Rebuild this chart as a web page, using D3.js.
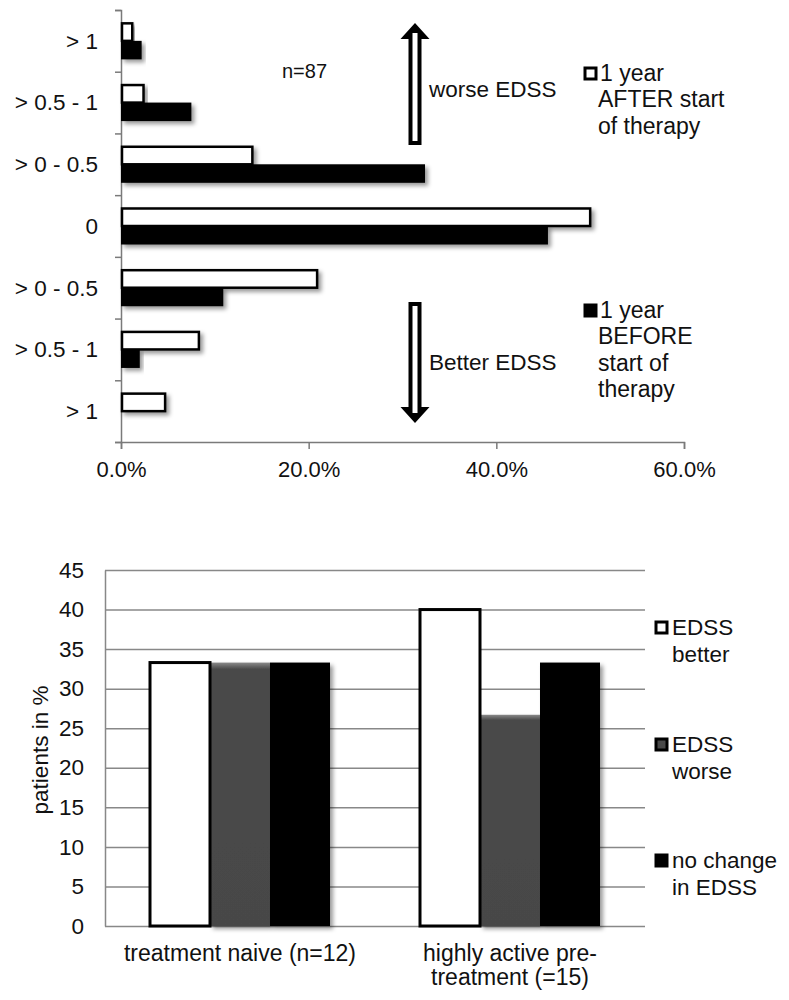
<!DOCTYPE html>
<html>
<head>
<meta charset="utf-8">
<script src="https://cdn.jsdelivr.net/npm/d3@7"></script>
<style>
  body { margin: 0; background: #fff; }
  svg { display: block; font-family: "Liberation Sans", Arial, sans-serif; }
  .lbl { fill: #111; }
</style>
</head>
<body>
<script>
// ---- top chart data (EDSS change, % of patients, n=87)
var topCats = ["> 1", "> 0.5 - 1", "> 0 - 0.5", "0", "> 0 - 0.5", "> 0.5 - 1", "> 1"];
var afterVals = [1.2, 2.4, 14.0, 50.0, 20.9, 8.3, 4.7];
var beforeVals = [2.2, 7.5, 32.4, 45.5, 10.9, 2.0, 0];
var topTicks = [0, 20, 40, 60];
var topLegend = [["1 year", "AFTER start", "of therapy"], ["1 year", "BEFORE", "start of", "therapy"]];

// ---- bottom chart data (patients in %)
var groupLabels = [["treatment naive (n=12)"], ["highly active pre-", "treatment (=15)"]];
var betterVals = [33.3, 40.0];
var worseVals = [33.3, 26.7];
var noChangeVals = [33.3, 33.3];
var bottomTicks = [0, 5, 10, 15, 20, 25, 30, 35, 40, 45];
var bottomLegend = [["EDSS", "better"], ["EDSS", "worse"], ["no change", "in EDSS"]];

var FS = 22.5;

var svg = d3.select("body").append("svg")
    .attr("width", 789)
    .attr("height", 1000);

var defs = svg.append("defs");
defs.append("filter")
    .attr("id", "shadow")
    .attr("x", "-10%").attr("y", "-30%").attr("width", "130%").attr("height", "180%")
  .append("feDropShadow")
    .attr("dx", 3).attr("dy", 3)
    .attr("stdDeviation", 2)
    .attr("flood-color", "#000")
    .attr("flood-opacity", 0.4);

var grayGrad = defs.append("linearGradient")
    .attr("id", "grayBevel")
    .attr("x1", 0).attr("y1", 0).attr("x2", 0).attr("y2", 1);
grayGrad.append("stop").attr("offset", "0").attr("stop-color", "#8a8a8a");
grayGrad.append("stop").attr("offset", "0.025").attr("stop-color", "#4a4a4a");
grayGrad.append("stop").attr("offset", "1").attr("stop-color", "#474747");

// =========================== top chart
var topG = svg.append("g");

var xTop = d3.scaleLinear().domain([0, 60]).range([121, 684]);
var yTop = d3.scaleBand()
    .domain(d3.range(topCats.length))
    .range([10, 442])
    .paddingInner(0.4)
    .paddingOuter(0.2);
var ySeries = d3.scaleBand()
    .domain(["after", "before"])
    .range([0, yTop.bandwidth()]);

// axes
var xAxisTop = topG.append("g")
    .attr("transform", "translate(0,442)")
    .call(d3.axisBottom(xTop).tickValues(topTicks).tickSize(7).tickPadding(12)
      .tickFormat(function(d){ return d.toFixed(1) + "%"; }));
var yAxisTop = topG.append("g")
    .attr("transform", "translate(121,0)")
    .call(d3.axisLeft(d3.scaleLinear().domain([0, topCats.length]).range([442, 10]))
      .ticks(topCats.length).tickSize(6).tickFormat(""));

[xAxisTop, yAxisTop].forEach(function(ax){
  ax.select(".domain").attr("stroke", "#7a7a7a").attr("stroke-width", 1.5);
  ax.selectAll(".tick line").attr("stroke", "#7a7a7a").attr("stroke-width", 1.5);
  ax.selectAll(".tick text").attr("class", "lbl").attr("font-family", null).attr("font-size", 22).attr("fill", "#111");
});

// category labels
topG.selectAll(".cat")
    .data(topCats)
  .enter().append("text")
    .attr("class", "lbl cat")
    .attr("x", 98)
    .attr("y", function(d, i){ return yTop(i) + yTop.bandwidth() / 2; })
    .attr("dy", "0.35em")
    .attr("text-anchor", "end")
    .attr("font-size", FS)
    .text(function(d){ return d; });

// bars
var rows = topG.selectAll(".row")
    .data(topCats.map(function(c, i){ return {i: i, after: afterVals[i], before: beforeVals[i]}; }))
  .enter().append("g")
    .attr("transform", function(d){ return "translate(0," + yTop(d.i) + ")"; });

rows.filter(function(d){ return d.before > 0; })
  .append("rect")
    .attr("x", xTop(0))
    .attr("y", ySeries("before"))
    .attr("width", function(d){ return xTop(d.before) - xTop(0); })
    .attr("height", ySeries.bandwidth())
    .attr("fill", "#000")
    .attr("filter", "url(#shadow)");

rows.append("rect")
    .attr("x", xTop(0) + 1)
    .attr("y", ySeries("after") + 1)
    .attr("width", function(d){ return xTop(d.after) - xTop(0) - 1; })
    .attr("height", ySeries.bandwidth() - 1)
    .attr("fill", "#fff")
    .attr("stroke", "#000")
    .attr("stroke-width", 2.5)
    .attr("filter", "url(#shadow)");

// n label
topG.append("text")
    .attr("class", "lbl")
    .attr("font-size", 20)
    .attr("x", 282)
    .attr("y", 78)
    .text("n=87");

// block arrows
function blockArrow(x, yTip, yEnd) {
  var dir = yEnd > yTip ? 1 : -1;
  var headLen = 16, headHalf = 14.5, shaftHalf = 6.5;
  var yBase = yTip + dir * headLen;
  var g = topG.append("g");
  g.append("path")
      .attr("d", "M" + x + "," + yTip +
        "L" + (x + headHalf) + "," + yBase +
        "L" + (x + shaftHalf) + "," + yBase +
        "L" + (x + shaftHalf) + "," + yEnd +
        "L" + (x - shaftHalf) + "," + yEnd +
        "L" + (x - shaftHalf) + "," + yBase +
        "L" + (x - headHalf) + "," + yBase + "Z")
      .attr("fill", "#000");
  var a = yTip + dir * 10, b = yEnd - dir * 4;
  g.append("rect")
      .attr("x", x - 2.5)
      .attr("y", Math.min(a, b))
      .attr("width", 5)
      .attr("height", Math.abs(b - a))
      .attr("fill", "#fff");
}
blockArrow(415, 23, 145);
blockArrow(415, 423, 302);

topG.append("text").attr("class", "lbl").attr("x", 429).attr("y", 97).attr("font-size", FS).text("worse EDSS");
topG.append("text").attr("class", "lbl").attr("x", 429).attr("y", 370).attr("font-size", FS).text("Better EDSS");

// legend
var topLegY = [81, 318];
topLegend.forEach(function(lines, k){
  var lg = topG.append("g");
  lg.append("rect")
      .attr("x", 585).attr("y", topLegY[k] - 13)
      .attr("width", 11).attr("height", 11)
      .attr("fill", k === 0 ? "#fff" : "#000")
      .attr("stroke", "#000").attr("stroke-width", 3);
  lg.selectAll("text")
      .data(lines)
    .enter().append("text")
      .attr("class", "lbl")
      .attr("font-size", 23)
      .attr("x", function(d, j){ return j === 0 ? 600 : 598; })
      .attr("y", function(d, j){ return topLegY[k] + j * 26.3; })
      .text(function(d){ return d; });
});

// =========================== bottom chart
var bot = svg.append("g");

var yBot = d3.scaleLinear().domain([0, 45]).range([926, 570]);
var xBot = d3.scaleBand()
    .domain(d3.range(groupLabels.length))
    .range([105, 645])
    .paddingInner(1 / 3)
    .paddingOuter(1 / 6);
var series = ["better", "worse", "nochange"];
var xSer = d3.scaleBand().domain(series).range([0, xBot.bandwidth()]);

// gridlines
bot.append("g")
    .attr("transform", "translate(105,0)")
    .call(d3.axisRight(yBot).tickValues(bottomTicks).tickSize(540).tickFormat(""))
    .call(function(g){
      g.select(".domain").remove();
      g.selectAll(".tick line").attr("stroke", "#888").attr("stroke-width", 1.5);
    });

// y axis
var yAxisBot = bot.append("g")
    .attr("transform", "translate(105,0)")
    .call(d3.axisLeft(yBot).tickValues(bottomTicks).tickSize(0).tickPadding(21));
yAxisBot.select(".domain").attr("stroke", "#888").attr("stroke-width", 1.5);
yAxisBot.selectAll(".tick text").attr("class", "lbl").attr("font-family", null).attr("font-size", FS).attr("fill", "#111");

bot.append("text")
    .attr("class", "lbl")
    .attr("font-size", FS)
    .attr("text-anchor", "middle")
    .attr("transform", "translate(48,750) rotate(-90)")
    .text("patients in %");

// bars
var grp = bot.selectAll(".grp")
    .data(groupLabels.map(function(l, i){
      return {i: i, better: betterVals[i], worse: worseVals[i], nochange: noChangeVals[i]};
    }))
  .enter().append("g")
    .attr("transform", function(d){ return "translate(" + xBot(d.i) + ",0)"; });

grp.append("rect")
    .attr("x", xSer("worse"))
    .attr("y", function(d){ return yBot(d.worse); })
    .attr("width", xSer.bandwidth())
    .attr("height", function(d){ return yBot(0) - yBot(d.worse); })
    .attr("fill", "url(#grayBevel)")
    .attr("filter", "url(#shadow)");

grp.append("rect")
    .attr("x", xSer("nochange"))
    .attr("y", function(d){ return yBot(d.nochange); })
    .attr("width", xSer.bandwidth())
    .attr("height", function(d){ return yBot(0) - yBot(d.nochange); })
    .attr("fill", "#000")
    .attr("filter", "url(#shadow)");

grp.append("rect")
    .attr("x", xSer("better"))
    .attr("y", function(d){ return yBot(d.better); })
    .attr("width", xSer.bandwidth())
    .attr("height", function(d){ return yBot(0) - yBot(d.better); })
    .attr("fill", "#fff")
    .attr("stroke", "#000")
    .attr("stroke-width", 3);

// group labels
grp.each(function(d){
  d3.select(this).selectAll("text")
      .data(groupLabels[d.i])
    .enter().append("text")
      .attr("class", "lbl")
      .attr("font-size", 23)
      .attr("text-anchor", "middle")
      .attr("x", xBot.bandwidth() / 2)
      .attr("y", function(t, j){ return 961 + j * 24; })
      .text(function(t){ return t; });
});

// legend
var botLegY = [635, 752, 868];
var botFill = ["#fff", "url(#grayBevel)", "#000"];
bottomLegend.forEach(function(lines, k){
  var lg = bot.append("g");
  lg.append("rect")
      .attr("x", 656).attr("y", botLegY[k] - 13)
      .attr("width", 11).attr("height", 11)
      .attr("fill", botFill[k])
      .attr("stroke", "#000").attr("stroke-width", 3);
  lg.selectAll("text")
      .data(lines)
    .enter().append("text")
      .attr("class", "lbl")
      .attr("font-size", FS)
      .attr("x", 672)
      .attr("y", function(d, j){ return botLegY[k] + j * 26.5; })
      .text(function(d){ return d; });
});
</script>
</body>
</html>
